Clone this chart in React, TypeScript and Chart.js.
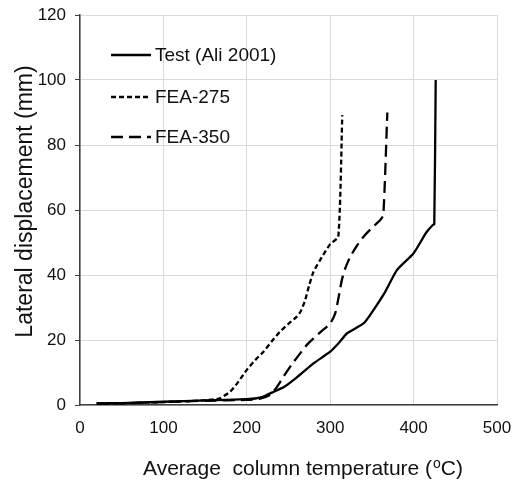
import React, { useEffect, useRef } from "react";
import { Chart, registerables } from "chart.js";

Chart.register(...registerables);

const xTicks = [0, 100, 200, 300, 400, 500];
const yTicks = [0, 20, 40, 60, 80, 100, 120];

const testT = [20, 50, 100, 150, 200, 210, 220, 230, 245, 260, 280, 300, 310, 320, 340, 350, 365, 380, 400, 415, 423, 424.8, 426.5];
const testD = [0.5, 0.6, 1.0, 1.4, 1.8, 2.0, 2.6, 3.8, 5.6, 8.5, 12.8, 16.4, 19, 22, 25.1, 28.5, 34.4, 41.5, 46.7, 53, 55.4, 55.6, 100];

const fea275T = [20, 60, 100, 140, 160, 168, 180, 190, 200, 210, 220, 230, 240, 250, 260, 265, 270, 275, 280, 290, 300, 309.7, 314.5];
const fea275D = [0.4, 0.6, 0.9, 1.3, 1.7, 2.1, 4.1, 7.2, 10.8, 13.8, 16.4, 19.6, 22.6, 25, 27.2, 29, 32.3, 37, 41, 45.5, 49.5, 51.8, 89.2];

const fea350T = [20, 60, 100, 150, 200, 215, 228, 236, 244, 254, 264, 272, 280, 290, 300, 306, 310, 314, 318, 324, 332, 340, 350, 360, 363.7, 368.5];
const fea350D = [0.4, 0.6, 0.9, 1.3, 1.6, 1.9, 3.1, 5.5, 8.7, 12.5, 15.9, 18.5, 20.5, 22.8, 25.1, 28.2, 33, 38.5, 42, 45.6, 49, 51.8, 54.5, 56.9, 58.5, 90];

const seriesLabels = ["Test (Ali 2001)", "FEA-275", "FEA-350"];
const seriesDash = [[], [5, 3], [12, 6]];

const xTitleParts = ["Average  column temperature (", "o", "C)"];
const yTitle = "Lateral displacement (mm)";

const toPts = (xs: number[], ys: number[]) => xs.map((x, i) => ({ x, y: ys[i] }));

const FONT = "'Liberation Sans', Arial, sans-serif";
const TEXT = "#111";

const decorPlugin = {
  id: "decor",
  afterDraw(chart: any) {
    const ctx = chart.ctx;
    const area = chart.chartArea;
    ctx.save();
    // legend
    const rows = [55, 97, 137];
    chart.data.datasets.forEach((ds: any, i: number) => {
      const y = rows[i];
      ctx.beginPath();
      ctx.setLineDash(ds.borderDash || []);
      ctx.strokeStyle = ds.borderColor;
      ctx.lineWidth = ds.borderWidth;
      ctx.moveTo(area.left + 31, y);
      ctx.lineTo(area.left + 71, y);
      ctx.stroke();
      ctx.setLineDash([]);
      ctx.fillStyle = TEXT;
      ctx.font = `19px ${FONT}`;
      ctx.textBaseline = "middle";
      ctx.textAlign = "left";
      ctx.fillText(ds.label, area.left + 75, y + 1);
    });
    // x title
    ctx.fillStyle = TEXT;
    ctx.textBaseline = "alphabetic";
    ctx.textAlign = "left";
    const big = `21px ${FONT}`;
    const small = `14px ${FONT}`;
    let x = 143;
    const base = 475;
    ctx.font = big;
    ctx.fillText(xTitleParts[0], x, base);
    x += ctx.measureText(xTitleParts[0]).width;
    ctx.font = small;
    ctx.fillText(xTitleParts[1], x + 1, base - 7);
    x += ctx.measureText(xTitleParts[1]).width + 1;
    ctx.font = big;
    ctx.fillText(xTitleParts[2], x, base);
    // y title
    ctx.translate(31.5, 201.5);
    ctx.rotate(-Math.PI / 2);
    ctx.font = `23px ${FONT}`;
    ctx.textAlign = "center";
    ctx.fillText(yTitle, 0, 0);
    ctx.restore();
  },
};

export default function App() {
  const ref = useRef<HTMLCanvasElement>(null);
  useEffect(() => {
    if (!ref.current) return;
    const datasets = [
      toPts(testT, testD),
      toPts(fea275T, fea275D),
      toPts(fea350T, fea350D),
    ].map((data, i) => ({
      label: seriesLabels[i],
      data,
      showLine: true,
      borderColor: "#000",
      backgroundColor: "#000",
      borderWidth: 2.3,
      borderDash: seriesDash[i],
      pointRadius: 0,
      tension: 0.2,
      fill: false,
    }));
    const chart = new Chart(ref.current, {
      type: "scatter",
      data: { datasets },
      plugins: [decorPlugin],
      options: {
        responsive: false,
        animation: false,
        layout: { padding: { top: 15, right: 16, left: 0, bottom: 0 } },
        plugins: { legend: { display: false }, tooltip: { enabled: false } },
        scales: {
          x: {
            type: "linear",
            min: 0,
            max: 500,
            afterBuildTicks: (s: any) => {
              s.ticks = xTicks.map((v) => ({ value: v }));
            },
            afterFit: (s: any) => {
              s.height = 78;
              s.paddingLeft = 0;
              s.paddingRight = 0;
            },
            grid: { color: "#d9d9d9", lineWidth: 1, drawTicks: false },
            border: { color: "#404040", width: 1.5 },
            ticks: { color: TEXT, font: { size: 17, family: FONT }, padding: 13, maxRotation: 0 },
          },
          y: {
            type: "linear",
            min: 0,
            max: 120,
            afterBuildTicks: (s: any) => {
              s.ticks = yTicks.map((v) => ({ value: v }));
            },
            afterFit: (s: any) => {
              s.width = 80;
              s.paddingTop = 0;
              s.paddingBottom = 0;
            },
            grid: { color: "#d9d9d9", lineWidth: 1, tickColor: "#404040", tickLength: 5 },
            border: { color: "#404040", width: 1.5 },
            ticks: { color: TEXT, font: { size: 17, family: FONT }, padding: 9 },
          },
        },
      },
    } as any);
    return () => chart.destroy();
  }, []);
  return (
    <div style={{ position: "fixed", left: 0, top: 0, width: 513, height: 483, background: "#fff" }}>
      <canvas ref={ref} width={513} height={483} />
    </div>
  );
}
